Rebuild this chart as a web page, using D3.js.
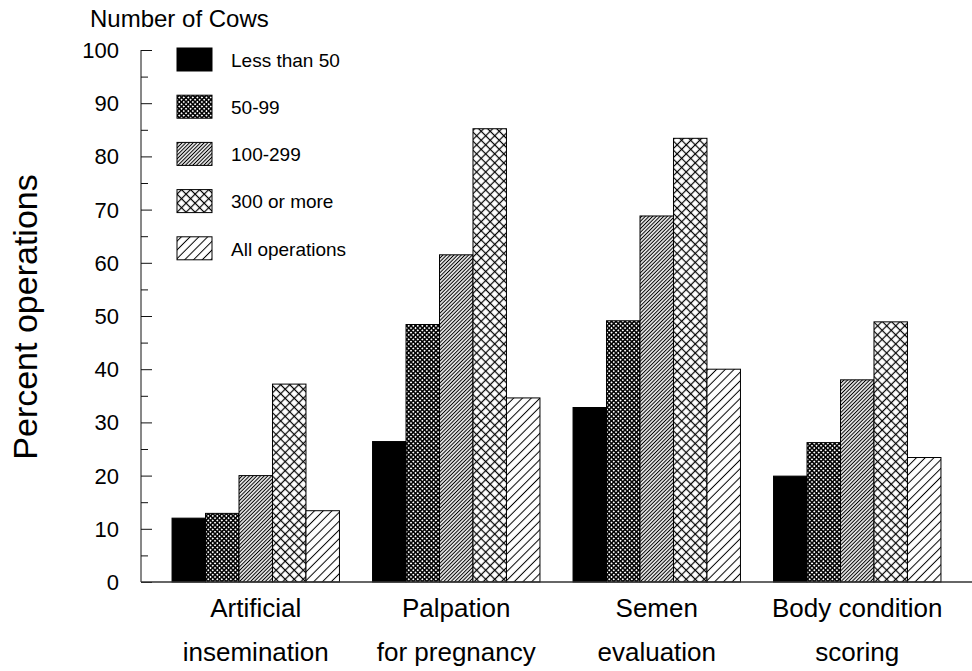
<!DOCTYPE html>
<html lang="en">
  <head>
    <meta charset="utf-8" />
    <title>Percent operations by herd size</title>
    <script src="https://d3js.org/d3.v7.min.js"></script>
    <style type="text/css">
      body {
        margin: 0;
        background: white;
      }
      text {
        font-family: "Liberation Sans", Arial, sans-serif;
        fill: black;
      }
    </style>
  </head>
  <body>
    <script type="text/javascript">
      const w = 972;
      const h = 671;

      // Define Data
      const categories = [
        ["Artificial", "insemination"],
        ["Palpation", "for pregnancy"],
        ["Semen", "evaluation"],
        ["Body condition", "scoring"]
      ];
      const seriesNames = ["Less than 50", "50-99", "100-299", "300 or more", "All operations"];
      const lessThan50 = [12.0, 26.4, 32.8, 19.9];
      const cows50to99 = [12.9, 48.4, 49.1, 26.2];
      const cows100to299 = [20.0, 61.5, 68.8, 38.0];
      const cows300plus = [37.2, 85.2, 83.4, 48.9];
      const allOperations = [13.4, 34.6, 40.0, 23.4];
      const yTicks = [0, 10, 20, 30, 40, 50, 60, 70, 80, 90, 100];

      const seriesValues = [lessThan50, cows50to99, cows100to299, cows300plus, allOperations];

      // Create SVG
      const svg = d3
        .select("body")
        .append("svg")
        .attr("width", w)
        .attr("height", h);

      // Fill patterns
      const defs = svg.append("defs");

      function lines(id, size, width, cross) {
        const p = defs
          .append("pattern")
          .attr("id", id)
          .attr("patternUnits", "userSpaceOnUse")
          .attr("width", size)
          .attr("height", size)
          .attr("patternTransform", "rotate(45)");
        p.append("rect").attr("width", size).attr("height", size).attr("fill", "white");
        p.append("line")
          .attr("x1", size / 2).attr("x2", size / 2)
          .attr("y1", 0).attr("y2", size)
          .attr("stroke", "black").attr("stroke-width", width);
        if (cross) {
          p.append("line")
            .attr("x1", 0).attr("x2", size)
            .attr("y1", size / 2).attr("y2", size / 2)
            .attr("stroke", "black").attr("stroke-width", width);
        }
      }
      lines("fine-cross", 3.2, 1.5, true);
      lines("fine-diag", 2.6, 1.1, false);
      lines("wide-cross", 6.4, 1.2, true);
      lines("wide-diag", 6.2, 1.0, false);

      const fills = ["black", "url(#fine-cross)", "url(#fine-diag)", "url(#wide-cross)", "url(#wide-diag)"];

      // Scales
      const x0 = d3
        .scaleBand()
        .domain(d3.range(categories.length))
        .range([155.5, 957.5])
        .paddingInner(0.165)
        .paddingOuter(0.0825);

      const x1 = d3
        .scaleBand()
        .domain(d3.range(seriesNames.length))
        .range([0, x0.bandwidth()]);

      const y = d3.scaleLinear().domain([0, 100]).range([582, 50]);

      // Bars
      const groups = svg
        .selectAll("g.group")
        .data(categories)
        .enter()
        .append("g")
        .attr("class", "group")
        .attr("transform", function (d, i) {
          return "translate(" + x0(i) + ",0)";
        });

      groups
        .selectAll("rect")
        .data(function (d, i) {
          return seriesValues.map(function (s, j) {
            return { series: j, value: s[i] };
          });
        })
        .enter()
        .append("rect")
        .attr("x", function (d) { return x1(d.series); })
        .attr("y", function (d) { return y(d.value); })
        .attr("width", x1.bandwidth())
        .attr("height", function (d) { return y(0) - y(d.value); })
        .attr("fill", function (d) { return fills[d.series]; })
        .attr("stroke", "black")
        .attr("stroke-width", 1);

      // Y axis: inward ticks, minor every 5
      const axisX = 141;
      const yAxis = d3
        .axisRight(y)
        .tickValues(d3.range(0, 101, 5))
        .tickSize(11)
        .tickFormat("");
      const yg = svg
        .append("g")
        .attr("transform", "translate(" + axisX + ",0)")
        .call(yAxis);
      yg.select(".domain").attr("d", "M0," + y(100) + "V" + y(0)).attr("stroke", "#111");
      yg.selectAll(".tick line")
        .attr("x2", function (d) { return d % 10 === 0 ? 11 : 7; })
        .attr("stroke", "#111");

      svg
        .selectAll("text.ytick")
        .data(yTicks)
        .enter()
        .append("text")
        .attr("class", "ytick")
        .attr("x", 119)
        .attr("y", function (d) { return y(d); })
        .attr("dy", "0.36em")
        .attr("text-anchor", "end")
        .style("font-size", "22px")
        .text(function (d) { return d; });

      // X axis baseline
      svg
        .append("line")
        .attr("x1", axisX)
        .attr("x2", w)
        .attr("y1", y(0))
        .attr("y2", y(0))
        .attr("stroke", "#333")
        .attr("stroke-width", 1.5);

      // Category labels
      const labels = svg
        .selectAll("text.xlabel")
        .data(categories)
        .enter()
        .append("text")
        .attr("class", "xlabel")
        .attr("text-anchor", "middle")
        .style("font-size", "26px");
      labels
        .selectAll("tspan")
        .data(function (d, i) {
          return d.map(function (t) { return { t: t, i: i }; });
        })
        .enter()
        .append("tspan")
        .attr("x", function (d) { return x0(d.i) + x0.bandwidth() / 2; })
        .attr("y", function (d, k) { return 617 + k * 44; })
        .text(function (d) { return d.t; });

      // Y axis title
      svg
        .append("text")
        .attr("transform", "translate(37,317) rotate(-90)")
        .attr("text-anchor", "middle")
        .style("font-size", "34px")
        .text("Percent operations");

      // Legend
      svg
        .append("text")
        .attr("x", 90)
        .attr("y", 27)
        .style("font-size", "24px")
        .text("Number of Cows");

      const legend = svg
        .selectAll("g.legend")
        .data(seriesNames)
        .enter()
        .append("g")
        .attr("class", "legend")
        .attr("transform", function (d, i) {
          return "translate(177," + (48 + i * 47.2) + ")";
        });
      legend
        .append("rect")
        .attr("width", 35)
        .attr("height", 23)
        .attr("fill", function (d, i) { return fills[i]; })
        .attr("stroke", "black")
        .attr("stroke-width", 1);
      legend
        .append("text")
        .attr("x", 54)
        .attr("y", 12)
        .attr("dy", "0.36em")
        .style("font-size", "19px")
        .text(function (d) { return d; });
    </script>
  </body>
</html>
